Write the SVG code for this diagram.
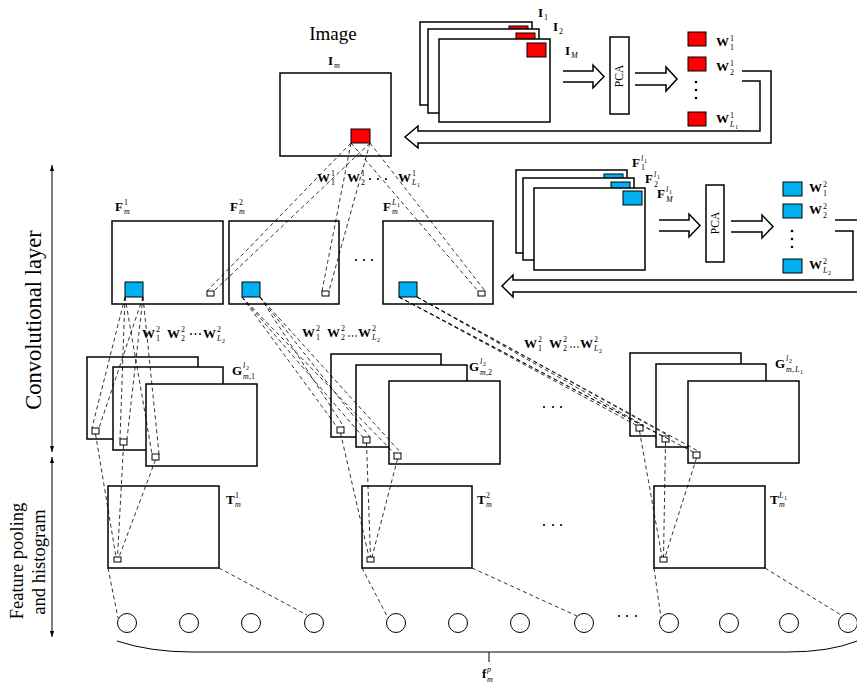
<svg xmlns="http://www.w3.org/2000/svg" width="857" height="688" viewBox="0 0 857 688">
<defs>
<style>
text{font-family:"Liberation Serif","Times New Roman",serif;fill:#000}
.box{fill:#fff;stroke:#000;stroke-width:1.5}
.sm{fill:#fff;stroke:#000;stroke-width:1}
.red{fill:#f00;stroke:#000;stroke-width:1}
.blu{fill:#00b0f0;stroke:#000;stroke-width:1}
.d{fill:none;stroke:#000;stroke-width:0.8;stroke-dasharray:4 3}
.ln{fill:none;stroke:#000;stroke-width:1}
.ar{fill:#fff;stroke:#000;stroke-width:1.5;stroke-linejoin:miter}
.b{font-weight:bold;font-size:13px}
.s{font-size:8px}
.ss{font-size:6px}
.i{font-style:italic}
.big{font-size:19px}
.side{font-size:18.5px}
.conv{font-size:22.5px}
.pca{font-size:11.5px}
</style>
<marker id="ah" viewBox="0 0 10 10" refX="10" refY="5" markerWidth="6" markerHeight="6" orient="auto-start-reverse"><path d="M0,1.5 L10,5 L0,8.5 z" fill="#000"/></marker>
</defs>

<g id="side-labels">
<line class="ln" x1="52" y1="165" x2="52" y2="452" marker-start="url(#ah)" marker-end="url(#ah)"/>
<line class="ln" x1="52" y1="457" x2="52" y2="637" marker-start="url(#ah)" marker-end="url(#ah)"/>
<text class="conv" text-anchor="middle" transform="translate(41,320) rotate(-90)">Convolutional layer</text>
<text class="side" text-anchor="middle" transform="translate(23,561) rotate(-90)">Feature pooling</text>
<text class="side" text-anchor="middle" transform="translate(45,562) rotate(-90)">and histogram</text>
</g>

<g id="image">
<text class="big" x="333" y="40" text-anchor="middle">Image</text>
<text><tspan class="b" x="328" y="65">I</tspan><tspan class="s i" x="334" y="68">m</tspan></text>
<rect class="box" x="280" y="73" width="111" height="83"/>
<rect class="red" x="351" y="129" width="19" height="14"/>
</g>

<g id="image-stack">
<rect class="box" x="420" y="22" width="112" height="83"/>
<rect class="red" x="509" y="26" width="19" height="14"/>
<rect class="box" x="428" y="29" width="111" height="84"/>
<rect class="red" x="516" y="33" width="19" height="14"/>
<rect class="box" x="439" y="39" width="111" height="83"/>
<rect class="red" x="527" y="43" width="19" height="14"/>
<text><tspan class="b" x="538" y="17">I</tspan><tspan class="s" x="544" y="20">1</tspan></text>
<text><tspan class="b" x="553" y="31">I</tspan><tspan class="s" x="559" y="34">2</tspan></text>
<text><tspan class="b" x="565" y="55">I</tspan><tspan class="s i" x="571" y="58">M</tspan></text>
</g>

<g id="pca1">
<path class="ar" d="M563,71 H593 V65 L604,76.5 L593,88 V82 H563"/>
<rect class="box" x="610" y="37" width="19" height="77"/>
<text class="pca" text-anchor="middle" transform="translate(623,76) rotate(-90)">PCA</text>
<path class="ar" d="M635,73 H666 V67 L677,79 L666,91 V85 H635"/>
</g>

<g id="filters1">
<rect class="red" x="688" y="32" width="18" height="14"/>
<rect class="red" x="688" y="57" width="18" height="14"/>
<rect class="red" x="688" y="112" width="18" height="14"/>
<circle cx="696" cy="82" r="1.3"/><circle cx="696" cy="90" r="1.3"/><circle cx="696" cy="98" r="1.3"/>
<text><tspan class="b" x="716" y="46">W</tspan><tspan class="s" x="730" y="41">1</tspan><tspan class="s" x="730" y="50">1</tspan></text>
<text><tspan class="b" x="716" y="71">W</tspan><tspan class="s" x="730" y="66">1</tspan><tspan class="s" x="730" y="75">2</tspan></text>
<text><tspan class="b" x="716" y="123">W</tspan><tspan class="s" x="730" y="118">1</tspan><tspan class="s i" x="730" y="127">L</tspan><tspan class="ss" x="735" y="129">1</tspan></text>
<path class="ar" d="M742,71 H771 V143 H418 V148 L405,137 L418,126 V131 H760 V81 H742"/>
</g>

<g id="F1">
<rect class="box" x="112" y="221" width="111" height="83"/>
<rect class="blu" x="125" y="282" width="18" height="15"/>
<rect class="sm" x="207" y="291" width="7" height="5"/>
<text><tspan class="b" x="115" y="211">F</tspan><tspan class="s" x="124" y="205">1</tspan><tspan class="s i" x="124" y="214">m</tspan></text>
</g>
<g id="F2">
<rect class="box" x="229" y="221" width="110" height="83"/>
<rect class="blu" x="242" y="282" width="18" height="15"/>
<rect class="sm" x="322" y="291" width="7" height="5"/>
<text><tspan class="b" x="230" y="211">F</tspan><tspan class="s" x="239" y="205">2</tspan><tspan class="s i" x="239" y="214">m</tspan></text>
</g>
<g id="F3">
<rect class="box" x="383" y="221" width="110" height="83"/>
<rect class="blu" x="399" y="282" width="18" height="15"/>
<rect class="sm" x="478" y="291" width="7" height="5"/>
<text><tspan class="b" x="383" y="211">F</tspan><tspan class="s i" x="392" y="205">L</tspan><tspan class="ss" x="397" y="207">1</tspan><tspan class="s i" x="392" y="214">m</tspan></text>
</g>
<g id="F-dots"><circle cx="356" cy="260" r="1.1"/><circle cx="364" cy="260" r="1.1"/><circle cx="372" cy="260" r="1.1"/></g>

<g id="feature-stack">
<rect class="box" x="516" y="170" width="111" height="83"/>
<rect class="blu" x="604" y="174" width="19" height="14"/>
<rect class="box" x="523" y="178" width="111" height="82"/>
<rect class="blu" x="611" y="182" width="19" height="14"/>
<rect class="box" x="534" y="188" width="111" height="82"/>
<rect class="blu" x="623" y="191" width="19" height="14"/>
<text><tspan class="b" x="632" y="167">F</tspan><tspan class="s i" x="641" y="161">l</tspan><tspan class="ss" x="644" y="163">1</tspan><tspan class="s" x="641" y="170">1</tspan></text>
<text><tspan class="b" x="645" y="183">F</tspan><tspan class="s i" x="654" y="177">l</tspan><tspan class="ss" x="657" y="179">1</tspan><tspan class="s" x="654" y="187">2</tspan></text>
<text><tspan class="b" x="657" y="198">F</tspan><tspan class="s i" x="666" y="192">l</tspan><tspan class="ss" x="669" y="194">1</tspan><tspan class="s i" x="666" y="202">M</tspan></text>
</g>

<g id="pca2">
<path class="ar" d="M659,220 H689 V214 L700,225.5 L689,237 V231 H659"/>
<rect class="box" x="706" y="185" width="18" height="77"/>
<text class="pca" text-anchor="middle" transform="translate(719,223) rotate(-90)">PCA</text>
<path class="ar" d="M731,221 H762 V215 L773,226.5 L762,238 V232 H731"/>
</g>

<g id="filters2">
<rect class="blu" x="783" y="182" width="19" height="14"/>
<rect class="blu" x="783" y="204" width="19" height="14"/>
<rect class="blu" x="783" y="259" width="19" height="14"/>
<circle cx="792" cy="231" r="1.3"/><circle cx="792" cy="239" r="1.3"/><circle cx="792" cy="247" r="1.3"/>
<text><tspan class="b" x="809" y="192">W</tspan><tspan class="s" x="823" y="187">2</tspan><tspan class="s" x="823" y="196">1</tspan></text>
<text><tspan class="b" x="809" y="214">W</tspan><tspan class="s" x="823" y="209">2</tspan><tspan class="s" x="823" y="218">2</tspan></text>
<text><tspan class="b" x="809" y="269">W</tspan><tspan class="s" x="823" y="264">2</tspan><tspan class="s i" x="823" y="273">L</tspan><tspan class="ss" x="828" y="275">2</tspan></text>
<path class="ar" d="M835,220 H862 V292 H513 V297 L502,286 L513,275 V280 H853 V231 H835"/>
</g>

<g id="G1">
<rect class="box" x="87" y="357" width="111" height="82"/>
<rect class="box" x="113" y="367" width="110" height="83"/>
<rect class="box" x="146" y="384" width="111" height="82"/>
<rect class="sm" x="92" y="428" width="7" height="6"/>
<rect class="sm" x="120" y="439" width="7" height="6"/>
<rect class="sm" x="152" y="454" width="7" height="6"/>
<text><tspan class="b" x="232" y="375">G</tspan><tspan class="s i" x="243" y="368">l</tspan><tspan class="ss" x="246" y="370">2</tspan><tspan class="s i" x="243" y="379">m</tspan><tspan class="s" x="249" y="379">,1</tspan></text>
</g>
<g id="G2">
<rect class="box" x="331" y="354" width="110" height="83"/>
<rect class="box" x="356" y="365" width="111" height="82"/>
<rect class="box" x="389" y="381" width="111" height="83"/>
<rect class="sm" x="337" y="427" width="7" height="6"/>
<rect class="sm" x="363" y="437" width="7" height="6"/>
<rect class="sm" x="394" y="453" width="7" height="6"/>
<text><tspan class="b" x="469" y="371">G</tspan><tspan class="s i" x="480" y="364">l</tspan><tspan class="ss" x="483" y="366">2</tspan><tspan class="s i" x="480" y="375">m</tspan><tspan class="s" x="486" y="375">,2</tspan></text>
</g>
<g id="G3">
<rect class="box" x="630" y="353" width="111" height="83"/>
<rect class="box" x="656" y="364" width="110" height="83"/>
<rect class="box" x="688" y="381" width="111" height="82"/>
<rect class="sm" x="636" y="425" width="7" height="6"/>
<rect class="sm" x="662" y="436" width="7" height="6"/>
<rect class="sm" x="693" y="452" width="7" height="6"/>
<text><tspan class="b" x="775" y="368">G</tspan><tspan class="s i" x="786" y="361">l</tspan><tspan class="ss" x="789" y="363">2</tspan><tspan class="s i" x="786" y="372">m</tspan><tspan class="s" x="792" y="372">,</tspan><tspan class="s i" x="795" y="372">L</tspan><tspan class="ss" x="800" y="374">1</tspan></text>
</g>
<g id="G-dots"><circle cx="544" cy="407" r="1.1"/><circle cx="553" cy="407" r="1.1"/><circle cx="561" cy="407" r="1.1"/></g>

<g id="T1">
<rect class="box" x="108" y="486" width="111" height="82"/>
<rect class="sm" x="114" y="557" width="7" height="5"/>
<text><tspan class="b" x="226" y="504">T</tspan><tspan class="s" x="235" y="498">1</tspan><tspan class="s i" x="235" y="507">m</tspan></text>
</g>
<g id="T2">
<rect class="box" x="362" y="486" width="110" height="82"/>
<rect class="sm" x="367" y="557" width="7" height="5"/>
<text><tspan class="b" x="477" y="504">T</tspan><tspan class="s" x="486" y="498">2</tspan><tspan class="s i" x="486" y="507">m</tspan></text>
</g>
<g id="T3">
<rect class="box" x="654" y="486" width="111" height="82"/>
<rect class="sm" x="660" y="557" width="7" height="5"/>
<text><tspan class="b" x="770" y="504">T</tspan><tspan class="s i" x="779" y="498">L</tspan><tspan class="ss" x="784" y="500">1</tspan><tspan class="s i" x="779" y="507">m</tspan></text>
</g>
<g id="T-dots"><circle cx="544" cy="525" r="1.1"/><circle cx="553" cy="525" r="1.1"/><circle cx="561" cy="525" r="1.1"/></g>

<g id="histogram" fill="#fff" stroke="#000" stroke-width="1">
<circle cx="127" cy="623" r="9.5"/><circle cx="189" cy="623" r="9.5"/><circle cx="251" cy="623" r="9.5"/><circle cx="314" cy="623" r="9.5"/>
<circle cx="396" cy="623" r="9.5"/><circle cx="458" cy="623" r="9.5"/><circle cx="520" cy="623" r="9.5"/><circle cx="584" cy="623" r="9.5"/>
<circle cx="669" cy="623" r="9.5"/><circle cx="729" cy="623" r="9.5"/><circle cx="789" cy="623" r="9.5"/><circle cx="848" cy="623" r="9.5"/>
</g>
<g id="hist-dots"><circle cx="619" cy="616" r="1.1"/><circle cx="627" cy="616" r="1.1"/><circle cx="636" cy="616" r="1.1"/></g>

<g id="feature-vector">
<path class="ln" d="M117,641 Q150,652 192,652 L787,652 Q830,652 857,641"/>
<line class="ln" x1="489" y1="652" x2="489" y2="662"/>
<text><tspan class="b" x="482" y="678">f</tspan><tspan class="s i" x="487" y="672">p</tspan><tspan class="s i" x="487" y="682">m</tspan></text>
</g>

<g id="W-labels">
<text><tspan class="b" x="317" y="182">W</tspan><tspan class="s" x="331" y="176">1</tspan><tspan class="s" x="331" y="185">1</tspan></text>
<text><tspan class="b" x="347" y="182">W</tspan><tspan class="s" x="361" y="176">1</tspan><tspan class="s" x="361" y="185">2</tspan></text>
<circle cx="370" cy="179" r="1.1"/><circle cx="378" cy="179" r="1.1"/><circle cx="386" cy="179" r="1.1"/>
<text><tspan class="b" x="398" y="182">W</tspan><tspan class="s" x="412" y="176">1</tspan><tspan class="s i" x="412" y="185">L</tspan><tspan class="ss" x="417" y="187">1</tspan></text>

<text><tspan class="b" x="142" y="338">W</tspan><tspan class="s" x="156" y="332">2</tspan><tspan class="s" x="156" y="341">1</tspan></text>
<text><tspan class="b" x="167" y="338">W</tspan><tspan class="s" x="181" y="332">2</tspan><tspan class="s" x="181" y="341">2</tspan></text>
<circle cx="191" cy="334" r="0.9"/><circle cx="195.5" cy="334" r="0.9"/><circle cx="200" cy="334" r="0.9"/>
<text><tspan class="b" x="203" y="338">W</tspan><tspan class="s" x="217" y="332">2</tspan><tspan class="s i" x="217" y="341">L</tspan><tspan class="ss" x="222" y="343">2</tspan></text>

<text><tspan class="b" x="302" y="337">W</tspan><tspan class="s" x="316" y="331">2</tspan><tspan class="s" x="316" y="340">1</tspan></text>
<text><tspan class="b" x="327" y="337">W</tspan><tspan class="s" x="341" y="331">2</tspan><tspan class="s" x="341" y="340">2</tspan></text>
<circle cx="349" cy="336" r="0.8"/><circle cx="352.5" cy="336" r="0.8"/><circle cx="356" cy="336" r="0.8"/>
<text><tspan class="b" x="358" y="337">W</tspan><tspan class="s" x="372" y="331">2</tspan><tspan class="s i" x="372" y="340">L</tspan><tspan class="ss" x="377" y="342">2</tspan></text>

<text><tspan class="b" x="524" y="348">W</tspan><tspan class="s" x="538" y="342">2</tspan><tspan class="s" x="538" y="351">1</tspan></text>
<text><tspan class="b" x="549" y="348">W</tspan><tspan class="s" x="563" y="342">2</tspan><tspan class="s" x="563" y="351">2</tspan></text>
<circle cx="571" cy="347" r="0.8"/><circle cx="574.5" cy="347" r="0.8"/><circle cx="578" cy="347" r="0.8"/>
<text><tspan class="b" x="580" y="348">W</tspan><tspan class="s" x="594" y="342">2</tspan><tspan class="s i" x="594" y="351">L</tspan><tspan class="ss" x="599" y="353">2</tspan></text>
</g>

<g id="connectors" class="d">
<line x1="351" y1="143" x2="207" y2="291"/><line x1="370" y1="143" x2="214" y2="291"/>
<line x1="351" y1="143" x2="322" y2="291"/><line x1="370" y1="143" x2="329" y2="291"/>
<line x1="351" y1="143" x2="478" y2="291"/><line x1="370" y1="143" x2="485" y2="291"/>

<line x1="125" y1="297" x2="92" y2="428"/><line x1="143" y1="297" x2="99" y2="428"/>
<line x1="125" y1="297" x2="120" y2="439"/><line x1="143" y1="297" x2="127" y2="439"/>
<line x1="125" y1="297" x2="152" y2="454"/><line x1="143" y1="297" x2="159" y2="454"/>

<line x1="242" y1="297" x2="337" y2="427"/><line x1="260" y1="297" x2="344" y2="427"/>
<line x1="242" y1="297" x2="363" y2="437"/><line x1="260" y1="297" x2="370" y2="437"/>
<line x1="242" y1="297" x2="394" y2="453"/><line x1="260" y1="297" x2="401" y2="453"/>

<line x1="399" y1="297" x2="636" y2="425"/><line x1="417" y1="297" x2="643" y2="425"/>
<line x1="399" y1="297" x2="662" y2="436"/><line x1="417" y1="297" x2="669" y2="436"/>
<line x1="399" y1="297" x2="693" y2="452"/><line x1="417" y1="297" x2="700" y2="452"/>

<line x1="95.5" y1="434" x2="116" y2="557"/><line x1="123.5" y1="445" x2="117.5" y2="557"/><line x1="155.5" y1="460" x2="119" y2="557"/>
<line x1="340.5" y1="433" x2="369" y2="557"/><line x1="366.5" y1="443" x2="370.5" y2="557"/><line x1="397.5" y1="459" x2="372" y2="557"/>
<line x1="639.5" y1="431" x2="662" y2="557"/><line x1="665.5" y1="442" x2="663.5" y2="557"/><line x1="696.5" y1="458" x2="665" y2="557"/>

<line x1="108" y1="568" x2="118" y2="618"/><line x1="219" y1="568" x2="307" y2="615"/>
<line x1="362" y1="568" x2="388" y2="618"/><line x1="472" y1="568" x2="577" y2="616"/>
<line x1="654" y1="568" x2="661" y2="618"/><line x1="765" y1="568" x2="841" y2="615"/>
</g>
</svg>
